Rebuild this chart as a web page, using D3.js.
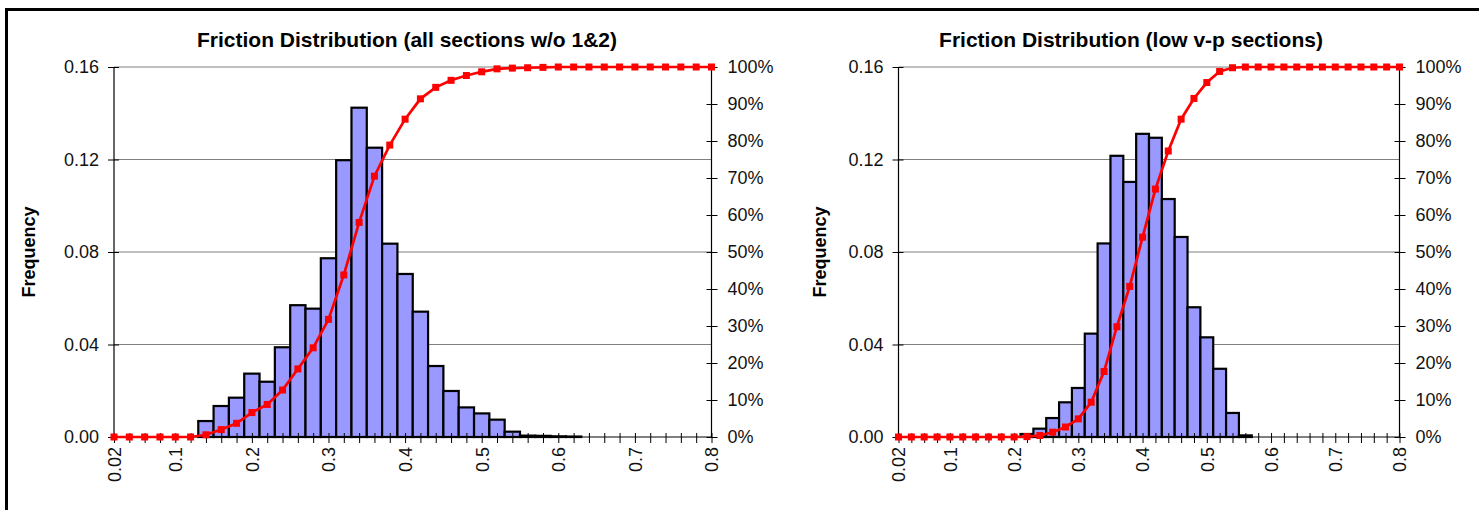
<!DOCTYPE html>
<html>
<head>
<meta charset="utf-8">
<script src="https://cdn.jsdelivr.net/npm/d3@7"></script>
<style>
  body { margin: 0; background: #fff; }
  svg { display: block; font-family: Arial, "Liberation Sans", sans-serif; }
</style>
</head>
<body>
<div id="chart"></div>
<script>
// bins (upper edge of friction class)
var categories = [0.02, 0.04, 0.06, 0.08, 0.10, 0.12, 0.14, 0.16, 0.18, 0.20,
                  0.22, 0.24, 0.26, 0.28, 0.30, 0.32, 0.34, 0.36, 0.38, 0.40,
                  0.42, 0.44, 0.46, 0.48, 0.50, 0.52, 0.54, 0.56, 0.58, 0.60,
                  0.62, 0.64, 0.66, 0.68, 0.70, 0.72, 0.74, 0.76, 0.78, 0.80];
// only these bins get a label on the axis
var labelledBins = [0.02, 0.1, 0.2, 0.3, 0.4, 0.5, 0.6, 0.7, 0.8];

var freqTicks = [0, 0.04, 0.08, 0.12, 0.16];
var pctTicks = [0, 0.1, 0.2, 0.3, 0.4, 0.5, 0.6, 0.7, 0.8, 0.9, 1.0];

// all sections w/o 1&2
var freqAll = [0, 0, 0, 0, 0, 0, 0.0069, 0.0134, 0.0170, 0.0274,
               0.0239, 0.0388, 0.0570, 0.0555, 0.0773, 0.1197, 0.1424, 0.1251, 0.0836, 0.0705,
               0.0542, 0.0307, 0.0199, 0.0128, 0.0102, 0.0075, 0.0023, 0.0006, 0.0005, 0.0003,
               0.0002, 0, 0, 0, 0, 0, 0, 0, 0, 0];
var cumAll = [0, 0, 0, 0, 0, 0, 0.006, 0.020, 0.037, 0.066,
              0.088, 0.127, 0.184, 0.241, 0.318, 0.438, 0.580, 0.705, 0.789, 0.859,
              0.914, 0.945, 0.964, 0.977, 0.987, 0.995, 0.997, 0.998, 0.999, 1.0,
              1.0, 1.0, 1.0, 1.0, 1.0, 1.0, 1.0, 1.0, 1.0, 1.0];

// low v-p sections
var freqLow = [0, 0, 0, 0, 0, 0, 0, 0, 0, 0,
               0.0013, 0.0036, 0.0082, 0.0150, 0.0212, 0.0447, 0.0837, 0.1216, 0.1103, 0.1311,
               0.1294, 0.1029, 0.0865, 0.0561, 0.0431, 0.0295, 0.0104, 0.0007, 0, 0,
               0, 0, 0, 0, 0, 0, 0, 0, 0, 0];
var cumLow = [0, 0, 0, 0, 0, 0, 0, 0, 0, 0,
              0.001, 0.004, 0.013, 0.027, 0.049, 0.094, 0.177, 0.298, 0.407, 0.540,
              0.670, 0.773, 0.859, 0.915, 0.958, 0.988, 0.998, 1.0, 1.0, 1.0,
              1.0, 1.0, 1.0, 1.0, 1.0, 1.0, 1.0, 1.0, 1.0, 1.0];

var width = 1479, height = 510;

var svg = d3.select('#chart').append('svg')
    .attr('width', width)
    .attr('height', height);

//outer frame (only top and left edges show)
svg.append('line')
    .attr('x1', 5).attr('x2', width)
    .attr('y1', 9.5).attr('y2', 9.5)
    .attr('stroke', '#000').attr('stroke-width', 3);
svg.append('line')
    .attr('x1', 6.5).attr('x2', 6.5)
    .attr('y1', 8).attr('y2', height)
    .attr('stroke', '#000').attr('stroke-width', 3);

drawChart({
  title: 'Friction Distribution (all sections w/o 1&2)',
  titleX: 407,
  yLabelX: 35,
  left: 114, right: 711.5, top: 67, bottom: 437,
  freq: freqAll, cum: cumAll
});

drawChart({
  title: 'Friction Distribution (low v-p sections)',
  titleX: 1131,
  yLabelX: 826,
  left: 898.5, right: 1399.5, top: 67, bottom: 437,
  freq: freqLow, cum: cumLow
});

function drawChart(c) {
  var g = svg.append('g');

  var x = d3.scalePoint()
      .domain(categories)
      .range([c.left, c.right]);
  var bw = x.step();

  var y = d3.scaleLinear().domain([0, 0.16]).range([c.bottom, c.top]);
  var y2 = d3.scaleLinear().domain([0, 1]).range([c.bottom, c.top]);

  //title
  g.append('text')
      .attr('x', c.titleX)
      .attr('y', 47)
      .attr('text-anchor', 'middle')
      .style('font-size', '21px')
      .style('font-weight', 'bold')
      .text(c.title);

  //y label
  g.append('text')
      .attr('transform', 'translate(' + c.yLabelX + ',' + ((c.top + c.bottom) / 2) + ') rotate(-90)')
      .attr('text-anchor', 'middle')
      .style('font-size', '18px')
      .style('font-weight', 'bold')
      .text('Frequency');

  //gridlines
  g.selectAll('.grid')
      .data(freqTicks.slice(1))
    .enter().append('line')
      .attr('x1', c.left).attr('x2', c.right)
      .attr('y1', function(d) { return y(d); })
      .attr('y2', function(d) { return y(d); })
      .attr('stroke', '#808080')
      .attr('stroke-width', 1);

  //bars (skip empty bins)
  var binData = categories.map(function(cat, i) { return {cat: cat, v: c.freq[i]}; })
      .filter(function(d) { return d.v > 0; });

  g.selectAll('.bar')
      .data(binData)
    .enter().append('rect')
      .attr('x', function(d) { return x(d.cat) - bw / 2; })
      .attr('y', function(d) { return y(d.v); })
      .attr('width', bw)
      .attr('height', function(d) { return c.bottom - y(d.v); })
      .attr('fill', '#9999ff')
      .attr('stroke', '#000')
      .attr('stroke-width', 2.2);

  //left axis
  var axL = g.append('g')
      .attr('transform', 'translate(' + c.left + ',0)')
      .call(d3.axisLeft(y).tickValues(freqTicks).tickFormat(d3.format('.2f')).tickSize(6).tickPadding(9));
  crossTicks(axL, 'x', 5);

  //right axis
  var axR = g.append('g')
      .attr('transform', 'translate(' + c.right + ',0)')
      .call(d3.axisRight(y2).tickValues(pctTicks).tickFormat(d3.format('.0%')).tickSize(6).tickPadding(10));
  crossTicks(axR, 'x', -5);

  //bottom axis
  var axB = g.append('g')
      .attr('transform', 'translate(0,' + c.bottom + ')')
      .call(d3.axisBottom(x)
        .tickFormat(function(d) { return labelledBins.indexOf(d) >= 0 ? String(+d.toFixed(2)) : ''; })
        .tickSize(6));
  crossTicks(axB, 'y', -4);
  axB.selectAll('text')
      .attr('transform', 'translate(0,10) rotate(-90)')
      .attr('text-anchor', 'end')
      .attr('x', 0).attr('y', 0)
      .attr('dy', '0.35em');

  [axL, axR, axB].forEach(function(ax) {
    ax.select('.domain').attr('stroke', '#000').attr('stroke-width', 1.2);
    ax.selectAll('.tick line').attr('stroke', '#000');
    ax.selectAll('text')
        .style('font-size', '18px')
        .style('font-family', 'Arial, "Liberation Sans", sans-serif')
        .attr('fill', '#111');
  });
  axB.select('.domain').attr('d', 'M' + c.left + ',0H' + c.right);
  axL.select('.domain').attr('d', 'M0,' + c.bottom + 'V' + c.top);
  axR.select('.domain').attr('d', 'M0,' + c.bottom + 'V' + c.top);

  //cumulative line
  var line = d3.line()
      .x(function(d, i) { return x(categories[i]); })
      .y(function(d) { return y2(d); });

  g.append('path')
      .datum(c.cum)
      .attr('d', line)
      .attr('fill', 'none')
      .attr('stroke', '#ff0000')
      .attr('stroke-width', 2.7);

  g.selectAll('.marker')
      .data(c.cum)
    .enter().append('rect')
      .attr('x', function(d, i) { return x(categories[i]) - 3.5; })
      .attr('y', function(d) { return y2(d) - 3.5; })
      .attr('width', 7)
      .attr('height', 7)
      .attr('fill', '#ff0000');
}

//make tick marks cross the axis line
function crossTicks(ax, dim, other) {
  ax.selectAll('.tick line').attr(dim + '1', other);
}
</script>
</body>
</html>
